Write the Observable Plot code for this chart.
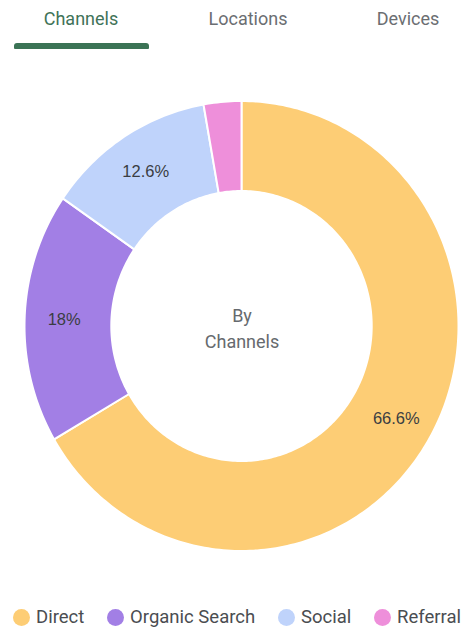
<!DOCTYPE html>
<html>
<head>
<meta charset="utf-8">
<script src="https://cdn.jsdelivr.net/npm/d3@7"></script>
<script src="https://cdn.jsdelivr.net/npm/@observablehq/plot@0.6"></script>
<style>
  html, body { margin: 0; padding: 0; background: #fff; }
  #root { position: relative; width: 462px; height: 628px; overflow: hidden; font-family: Roboto, "Noto Sans", sans-serif; }
  #tabs { position: absolute; left: 0; top: 0; width: 462px; height: 56px; }
  .tab { position: absolute; top: 6px; width: 140px; margin-left: -70px; text-align: center; font-size: 18px; line-height: 26px; color: #6b6e72; }
  .tab.active { color: #3f7358; }
  #underline { position: absolute; left: 14px; top: 43px; width: 135px; height: 6px; background: #3b7355; border-radius: 3px 3px 1px 1px; }
  #chart { position: absolute; left: 0; top: 56px; }
  #legend { position: absolute; left: 13px; right: 1px; top: 604px; height: 26px; display: flex; justify-content: space-between; align-items: center; font-size: 18.5px; color: #4a4d51; }
  .item { display: flex; align-items: center; }
  .dot { width: 17px; height: 17px; border-radius: 50%; margin-right: 6px; }
</style>
</head>
<body>
<div id="root">
  <div id="tabs"></div>
  <div id="chart"></div>
  <div id="legend"></div>
</div>
<script>
// ---- data ----
const tabs = ["Channels", "Locations", "Devices"];
const tabCenters = [81, 248, 408];
const categories = ["Direct", "Organic Search", "Social", "Referral"];
const shares = [66.6, 18, 12.6, 2.8];
const colors = ["#fdcd75", "#a27fe5", "#bfd3fb", "#ee8fda"];
const centerLabel = "By\nChannels";

// ---- tabs ----
const tabsEl = document.getElementById("tabs");
tabs.forEach((t, i) => {
  const d = document.createElement("div");
  d.className = "tab" + (i === 0 ? " active" : "");
  d.style.left = tabCenters[i] + "px";
  d.textContent = t;
  tabsEl.appendChild(d);
});
const ul = document.createElement("div");
ul.id = "underline";
tabsEl.appendChild(ul);

// ---- donut geometry from data ----
const table = categories.map((c, i) => ({category: c, value: shares[i]}));
const arcs = d3.pie().sort(null).value(d => d.value)(table);
const inner = 0.6, outer = 1, labelRadius = 0.82;
const ring = [];
for (const a of arcs) {
  const n = Math.max(2, Math.ceil((a.endAngle - a.startAngle) / (Math.PI / 180)));
  for (let k = 0; k <= n; ++k) {
    const t = a.startAngle + (a.endAngle - a.startAngle) * k / n;
    ring.push({
      category: a.data.category,
      x1: inner * Math.sin(t), y1: inner * Math.cos(t),
      x2: outer * Math.sin(t), y2: outer * Math.cos(t)
    });
  }
}
const labels = arcs.filter(a => a.data.value > 5).map(a => {
  const m = (a.startAngle + a.endAngle) / 2;
  return {x: labelRadius * Math.sin(m), y: labelRadius * Math.cos(m), text: `${a.data.value}%`};
});

const plot = Plot.plot({
  width: 462,
  height: 540,
  marginLeft: 24.5,
  marginRight: 3.5,
  marginTop: 45,
  marginBottom: 45,
  x: {domain: [-1, 1], axis: null},
  y: {domain: [-1, 1], axis: null},
  color: {domain: categories, range: colors},
  style: {background: "transparent"},
  marks: [
    Plot.area(ring, {x1: "x1", y1: "y1", x2: "x2", y2: "y2", z: "category", fill: "category", stroke: "white", strokeWidth: 2}),
    Plot.text(labels, {x: "x", y: "y", text: "text", fill: "#3a3d42", fontSize: 16.5, fontFamily: "'Liberation Sans', Arial, sans-serif"}),
    Plot.text([centerLabel], {frameAnchor: "middle", text: d => d, fill: "#666a6e", fontSize: 18, lineHeight: 1.45, fontFamily: "Roboto, sans-serif"})
  ]
});
document.getElementById("chart").appendChild(plot);

// ---- legend from the plot's color scale ----
const cs = plot.scale("color");
const legendEl = document.getElementById("legend");
cs.domain.forEach((c, i) => {
  const item = document.createElement("div");
  item.className = "item";
  const dot = document.createElement("span");
  dot.className = "dot";
  dot.style.background = cs.range[i];
  const lab = document.createElement("span");
  lab.textContent = c;
  item.appendChild(dot);
  item.appendChild(lab);
  legendEl.appendChild(item);
});
</script>
</body>
</html>
